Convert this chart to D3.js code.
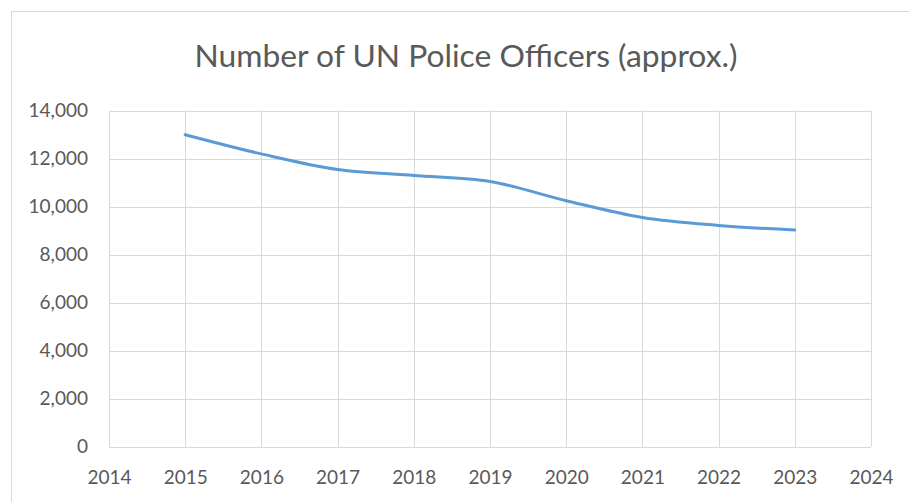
<!DOCTYPE html>
<html>
<head>
<meta charset="utf-8">
<script src="https://cdn.jsdelivr.net/npm/d3@7"></script>
<style>
  html, body { margin: 0; padding: 0; background: #fff; }
  svg { display: block; }
  text { font-family: Lato, "Open Sans", sans-serif; fill: #595959; }
</style>
</head>
<body>
<svg id="chart" width="909" height="502"></svg>
<script>
const title = "Number of UN Police Officers (approx.)";
const years = [2015, 2016, 2017, 2018, 2019, 2020, 2021, 2022, 2023];
const officers = [13000, 12200, 11550, 11300, 11050, 10250, 9550, 9220, 9030];
const xTicks = [2014, 2015, 2016, 2017, 2018, 2019, 2020, 2021, 2022, 2023, 2024];
const yTicks = [0, 2000, 4000, 6000, 8000, 10000, 12000, 14000];

const svg = d3.select("#chart");
const W = 909, H = 502;
const plot = { left: 109, right: 871, top: 110.7, bottom: 446.7 };

// outer chart border
svg.append("rect")
  .attr("x", 11.5).attr("y", 11.5)
  .attr("width", W + 20).attr("height", H + 20)
  .attr("fill", "none").attr("stroke", "#d9d9d9").attr("stroke-width", 1);

const x = d3.scaleLinear().domain([2014, 2024]).range([plot.left, plot.right]);
const y = d3.scaleLinear().domain([0, 14000]).range([plot.bottom, plot.top]);

// gridlines
const g = svg.append("g");
g.selectAll(".hg").data(yTicks).join("line")
  .attr("x1", plot.left).attr("x2", plot.right)
  .attr("y1", d => Math.round(y(d)) + 0.5).attr("y2", d => Math.round(y(d)) + 0.5)
  .attr("stroke", "#d9d9d9").attr("stroke-width", 1);
g.selectAll(".vg").data(xTicks).join("line")
  .attr("y1", plot.top).attr("y2", plot.bottom)
  .attr("x1", d => Math.round(x(d)) + 0.5).attr("x2", d => Math.round(x(d)) + 0.5)
  .attr("stroke", "#d9d9d9").attr("stroke-width", 1);

// axes via d3
const yAxis = d3.axisLeft(y).tickValues(yTicks).tickSize(0).tickPadding(0)
  .tickFormat(d3.format(","));
const ya = svg.append("g").attr("transform", `translate(${plot.left - 21},0)`).call(yAxis);
ya.select(".domain").remove();
ya.selectAll("text").style("font-size", "19px").attr("fill", "#595959")
  .style("font-family", "Lato, 'Open Sans', sans-serif");

const xAxis = d3.axisBottom(x).tickValues(xTicks).tickSize(0).tickPadding(0)
  .tickFormat(d3.format("d"));
const xa = svg.append("g").attr("transform", `translate(0,${plot.bottom + 24})`).call(xAxis);
xa.select(".domain").remove();
xa.selectAll("text").style("font-size", "19px").attr("fill", "#595959")
  .style("font-family", "Lato, 'Open Sans', sans-serif");

// line
const data = years.map((yr, i) => ({ yr, v: officers[i] }));
svg.append("path")
  .datum(data)
  .attr("fill", "none")
  .attr("stroke", "#5b9bd5")
  .attr("stroke-width", 3)
  .attr("stroke-linecap", "round")
  .attr("d", d3.line().x(d => x(d.yr)).y(d => y(d.v)).curve(d3.curveCardinal.tension(0)));

// title
const t = svg.append("text")
  .attr("x", 466).attr("y", 67)
  .attr("text-anchor", "middle")
  .style("font-size", "28px")
  .text(title);
const len = t.node().getComputedTextLength();
t.style("font-size", (28 * 543 / len).toFixed(2) + "px");
</script>
</body>
</html>
